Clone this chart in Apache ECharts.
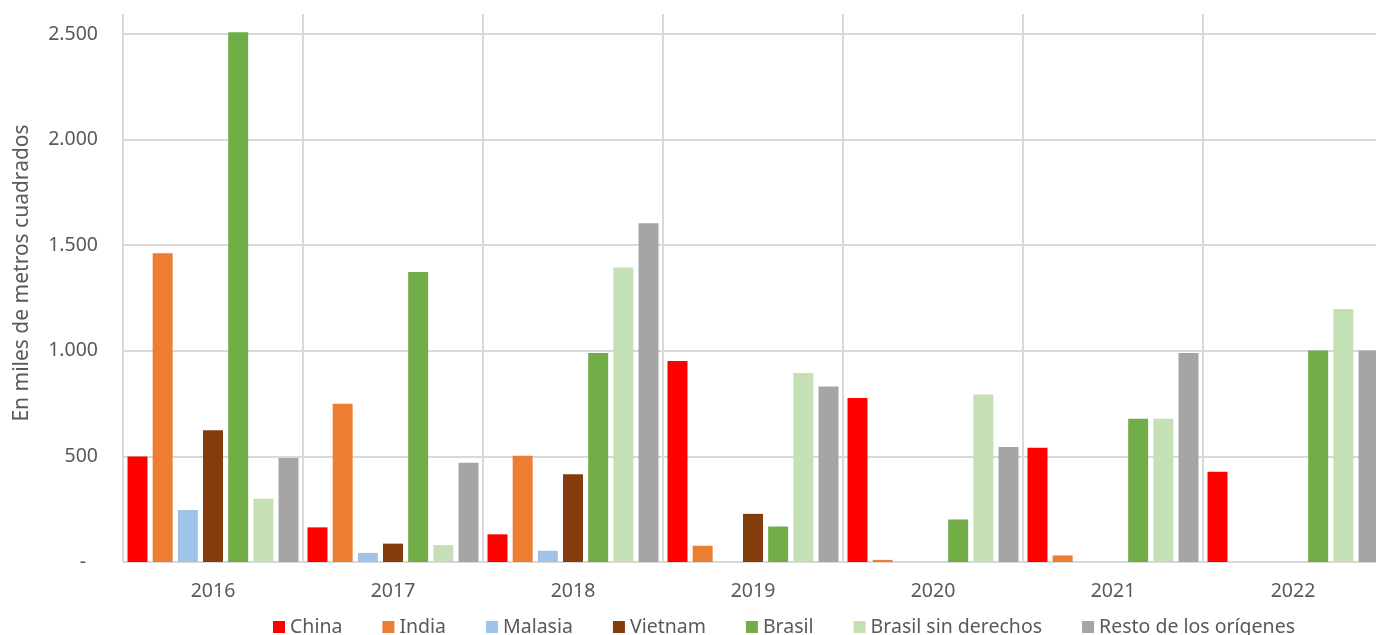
<!DOCTYPE html>
<html>
<head>
<meta charset="utf-8">
<script src="https://cdn.jsdelivr.net/npm/echarts@6/dist/echarts.min.js"></script>
<style>
html,body{margin:0;padding:0;background:#fff;overflow:hidden;width:1376px;height:635px;}
#chart{width:1400px;height:635px;}
</style>
</head>
<body>
<div id="chart"></div>
<script>
const categories = ['2016','2017','2018','2019','2020','2021','2022'];
const seriesNames = ['China','India','Malasia','Vietnam','Brasil','Brasil sin derechos','Resto de los orígenes'];
const china    = [500, 164, 131, 952, 777, 541, 427];
const india    = [1462, 749, 503, 77, 10, 31, 0];
const malasia  = [246, 43, 53, 0, 0, 0, 0];
const vietnam  = [624, 87, 416, 228, 0, 0, 0];
const brasil   = [2508, 1373, 989, 168, 201, 678, 1001];
const brasilSD = [299, 80, 1395, 895, 793, 678, 1198];
const resto    = [492, 470, 1604, 831, 545, 990, 1001];
const yTicks   = [0, 500, 1000, 1500, 2000, 2500];
const yTitle   = 'En miles de metros cuadrados';

const colors = ['#ff0000','#ed7d31','#9dc3e6','#843c0c','#70ad47','#c5e0b4','#a5a5a5'];
const values = [china, india, malasia, vietnam, brasil, brasilSD, resto];
const FONT = 'Noto Sans';
const TXT = '#595959';
const GRIDC = '#d9d9d9';
const FS = 19.5;

function fmt(v){
  if (v === 0) return '{z|-}';
  return String(v).replace(/\B(?=(\d{3})+(?!\d))/g, '.');
}

const chart = echarts.init(document.getElementById('chart'), null, {renderer:'canvas'});
chart.setOption({
  animation: false,
  color: colors,
  textStyle: {fontFamily: FONT},
  grid: [
    {left: 123, top: 34, width: 1260, height: 528, containLabel: false},
    {left: 123, top: 14, width: 1260, height: 548, containLabel: false}
  ],
  legend: {
    data: seriesNames,
    left: 268,
    top: 612,
    itemWidth: 12,
    itemHeight: 12,
    itemGap: 40,
    icon: 'rect',
    textStyle: {color: TXT, fontSize: FS, fontFamily: FONT}
  },
  graphic: [{
    type: 'text',
    x: 22,
    y: 273,
    rotation: Math.PI / 2,
    style: {
      text: yTitle,
      fill: TXT,
      fontSize: 21,
      fontFamily: FONT,
      align: 'center',
      verticalAlign: 'middle'
    }
  }],
  xAxis: [{
    type: 'category',
    gridIndex: 0,
    data: categories,
    boundaryGap: true,
    axisLine: {show: true, lineStyle: {color: GRIDC, width: 2}},
    axisTick: {show: false},
    splitLine: {show: false},
    axisLabel: {color: TXT, fontSize: FS, fontFamily: FONT, margin: 19}
  },{
    type: 'category',
    gridIndex: 1,
    data: categories,
    boundaryGap: true,
    axisLine: {show: false},
    axisTick: {show: false},
    axisLabel: {show: false},
    splitLine: {show: true, interval: 0, lineStyle: {color: GRIDC, width: 2}}
  }],
  yAxis: [{
    type: 'value',
    gridIndex: 0,
    min: yTicks[0],
    max: yTicks[yTicks.length - 1],
    interval: 500,
    axisLine: {show: false},
    axisTick: {show: false},
    splitLine: {show: true, lineStyle: {color: GRIDC, width: 2}},
    axisLabel: {
      color: TXT, fontSize: FS, fontFamily: FONT, margin: 25,
      formatter: fmt,
      rich: {z: {color: TXT, fontSize: FS, fontFamily: FONT, padding: [0, 12, 0, 0]}}
    }
  },{
    type: 'value',
    gridIndex: 1,
    show: false,
    min: 0,
    max: 2600,
    splitLine: {show: false}
  }],
  series: seriesNames.map((name, i) => ({
    name: name,
    type: 'bar',
    xAxisIndex: 0,
    yAxisIndex: 0,
    data: values[i],
    clip: false,
    barGap: '26%',
    barCategoryGap: '5%',
    itemStyle: {color: colors[i]}
  }))
});
</script>
</body>
</html>
